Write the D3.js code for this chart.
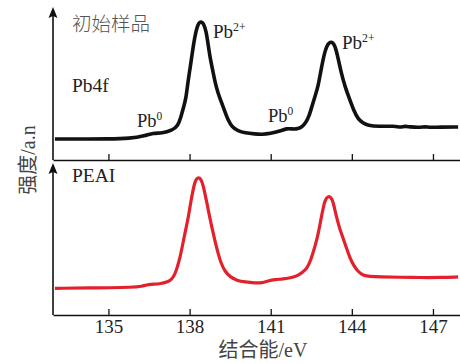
<!DOCTYPE html>
<html>
<head>
<meta charset="utf-8">
<script src="https://cdn.jsdelivr.net/npm/d3@7"></script>
<style>
  body { margin: 0; background: #fff; }
  svg { display: block; }
</style>
</head>
<body>
<div id="chart"></div>
<script>
// binding energy (eV) and intensity (a.u., 0-100)
const eTop = [133.02,133.95,134.98,135.80,136.35,136.65,136.98,137.35,137.57,137.68,137.79,137.87,137.94,138.02,138.09,138.16,138.24,138.31,138.42,138.53,138.61,138.68,138.76,138.87,138.94,139.05,139.16,139.31,139.42,139.57,139.79,140.05,140.42,140.68,140.98,141.35,141.60,141.79,142.01,142.20,142.31,142.42,142.53,142.64,142.75,142.86,142.97,143.08,143.23,143.38,143.49,143.60,143.75,143.93,144.08,144.23,144.41,144.60,144.97,145.60,145.78,145.97,146.15,146.52,146.71,146.89,147.26,147.93];
const iTop = [15.1,15.1,15.1,15.4,17.2,19.3,18.9,20.9,24.0,30.1,37.7,43.2,54.1,63.7,72.6,81.5,89.0,93.8,95.9,93.8,89.0,80.8,70.5,61.0,54.1,46.6,41.1,33.6,28.1,23.3,20.5,19.2,18.5,18.2,18.8,20.5,22.4,21.9,21.9,24.0,26.7,30.8,37.7,44.5,50.7,62.3,72.6,79.5,82.2,79.5,70.5,61.0,50.7,41.8,34.2,28.8,26.0,24.3,23.6,24.0,22.9,24.0,23.3,22.9,23.6,22.9,23.3,23.3];

const eBot = [133.02,134.69,135.91,136.24,136.46,136.91,137.20,137.35,137.46,137.54,137.65,137.72,137.83,137.91,137.98,138.05,138.13,138.20,138.31,138.42,138.50,138.57,138.65,138.72,138.83,138.94,139.05,139.16,139.31,139.50,139.75,140.05,140.42,140.68,140.90,141.16,141.46,141.79,142.01,142.16,142.31,142.42,142.53,142.64,142.75,142.86,142.94,143.01,143.12,143.23,143.31,143.38,143.49,143.57,143.68,143.79,143.93,144.08,144.23,144.41,144.67,145.04,145.78,146.52,147.26,147.93];
const iBot = [18.0,18.4,18.7,19.3,20.7,20.9,22.3,24.3,27.7,31.8,39.2,45.3,55.4,62.2,68.9,77.0,84.5,90.5,93.2,91.9,87.8,81.8,75.0,68.2,58.8,50.0,41.9,35.1,29.4,25.7,23.3,22.3,21.6,21.6,23.0,24.0,24.3,25.3,26.7,28.6,30.9,34.3,39.9,46.6,54.1,64.9,72.3,77.7,80.4,79.7,76.4,70.3,62.2,57.4,51.7,45.9,38.5,33.1,29.4,26.7,26.0,25.7,25.5,25.3,25.3,25.7];

const xTicks = [135, 138, 141, 144, 147];

const W = 460, H = 364;
const axisX = 53;
const SERIF = "'Liberation Serif', 'Noto Sans CJK SC'";
const CJK = "'Noto Sans CJK SC'";

const svg = d3.select("#chart").append("svg")
    .attr("width", W)
    .attr("height", H);

const x = d3.scaleLinear().domain([132.95, 148]).range([axisX, W]);

const yTop = d3.scaleLinear().domain([0, 100]).range([161, 15]);
const yBot = d3.scaleLinear().domain([0, 100]).range([315, 167]);

function panel(baseY, tipY, withLabels) {
  const g = svg.append("g");

  // x axis, ticks pointing up into the plot
  const ax = g.append("g")
      .attr("transform", "translate(0," + baseY + ")")
      .call(d3.axisBottom(x).tickValues(xTicks).tickSizeInner(-6).tickSizeOuter(0).tickPadding(5)
        .tickFormat(withLabels ? d3.format("d") : ""));
  ax.select(".domain").attr("stroke", "#111").attr("stroke-width", 1.6);
  ax.selectAll(".tick line").attr("stroke", "#111").attr("stroke-width", 1.3);
  ax.selectAll(".tick text")
      .style("font-family", SERIF)
      .style("font-size", "19px")
      .attr("fill", "#222");

  // y axis with arrow
  g.append("line")
      .attr("x1", axisX).attr("x2", axisX)
      .attr("y1", baseY).attr("y2", tipY + 6)
      .attr("stroke", "#111").attr("stroke-width", 1.6);
  g.append("path")
      .attr("d", "M" + axisX + "," + tipY + " L" + (axisX - 4.5) + "," + (tipY + 11) +
                 " L" + axisX + "," + (tipY + 9) + " L" + (axisX + 4.5) + "," + (tipY + 11) + "Z")
      .attr("fill", "#111");
  return g;
}

panel(160, 7, false);
panel(315, 163, true);

const line = (ys) => d3.line()
    .x(d => x(d[0]))
    .y(d => ys(d[1]))
    .curve(d3.curveBasis);

svg.append("path")
    .datum(d3.zip(eTop, iTop))
    .attr("fill", "none")
    .attr("stroke", "#111")
    .attr("stroke-width", 3.6)
    .attr("stroke-linejoin", "round")
    .attr("d", line(yTop));

svg.append("path")
    .datum(d3.zip(eBot, iBot))
    .attr("fill", "none")
    .attr("stroke", "#e3202b")
    .attr("stroke-width", 3.2)
    .attr("stroke-linejoin", "round")
    .attr("d", line(yBot));

// annotations
function label(txt, sup, px, py, size, color) {
  const t = svg.append("text")
      .attr("x", px).attr("y", py)
      .style("font-family", SERIF)
      .style("font-size", size + "px")
      .attr("fill", color || "#222")
      .text(txt);
  if (sup) {
    t.append("tspan")
      .style("font-size", (size * 0.62) + "px")
      .attr("dy", -size * 0.38)
      .text(sup);
  }
}

svg.append("text")
    .attr("x", 72).attr("y", 31)
    .style("font-family", CJK)
    .style("font-weight", 300)
    .style("font-size", "19.5px")
    .attr("fill", "#555")
    .text("初始样品");

label("Pb4f", null, 72, 92, 19.5, "#222");
label("Pb", "0", 137, 127, 18.5, "#222");
label("Pb", "2+", 213, 38, 19, "#222");
label("Pb", "0", 268, 122, 18.5, "#222");
label("Pb", "2+", 342, 49, 19, "#222");
label("PEAI", null, 72, 182, 19.5, "#222");

// axis titles
svg.append("text")
    .attr("x", 263).attr("y", 357)
    .attr("text-anchor", "middle")
    .style("font-family", SERIF)
    .style("font-size", "20px")
    .attr("fill", "#444")
    .text("结合能/eV");

svg.append("text")
    .attr("transform", "translate(35,160) rotate(-90)")
    .attr("text-anchor", "middle")
    .style("font-family", SERIF)
    .style("font-size", "20px")
    .attr("fill", "#444")
    .text("强度/a.n");
</script>
</body>
</html>
